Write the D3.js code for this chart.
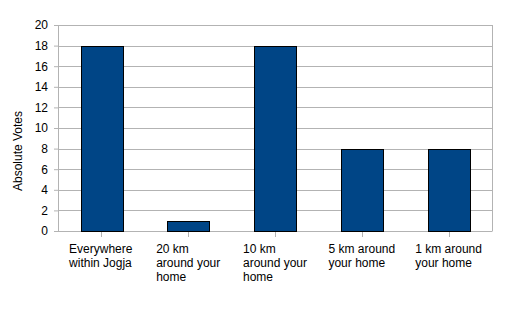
<!DOCTYPE html>
<html>
<head>
<meta charset="utf-8">
<script src="https://cdn.jsdelivr.net/npm/d3@7"></script>
<style>
  body { margin: 0; background: #fff; }
  text { font-family: "Liberation Sans", Arial, sans-serif; font-size: 12px; fill: #000; }
</style>
</head>
<body>
<div id="chart"></div>
<script>
var categories = ["a", "b", "c", "d", "e"];
var labels = [
    ["Everywhere", "within Jogja"],
    ["20 km", "around your", "home"],
    ["10 km", "around your", "home"],
    ["5 km around", "your home"],
    ["1 km around", "your home"]
];
var votes = [18, 1, 18, 8, 8];
var yTicks = [0, 2, 4, 6, 8, 10, 12, 14, 16, 18, 20];

var margin = {top: 25, right: 18, bottom: 81, left: 58},
    width = 510 - margin.left - margin.right,
    height = 312 - margin.top - margin.bottom;

var svg = d3.select("#chart").append("svg")
    .attr("width", 510)
    .attr("height", 312);

var chart = svg.append("g")
    .attr("transform", "translate(" + margin.left + "," + margin.top + ")");

var x = d3.scaleBand().domain(categories).range([0, width]).paddingInner(0.52).paddingOuter(0.26);
var y = d3.scaleLinear().domain([0, 20]).range([height, 0]);
var xc = d3.scaleBand().domain(categories).range([0, width]);

// gridlines
chart.append("g")
    .selectAll("line")
    .data(yTicks)
    .enter().append("line")
    .attr("x1", 0)
    .attr("x2", width)
    .attr("y1", function(d) { return Math.round(y(d)) + 0.5; })
    .attr("y2", function(d) { return Math.round(y(d)) + 0.5; })
    .style("stroke", "#b3b3b3");

// frame
chart.append("line")
    .attr("x1", 0.5).attr("x2", 0.5).attr("y1", 0).attr("y2", height + 0.5)
    .style("stroke", "#b3b3b3");
chart.append("line")
    .attr("x1", width + 0.5).attr("x2", width + 0.5).attr("y1", 0).attr("y2", height + 0.5)
    .style("stroke", "#b3b3b3");

// y axis
var yAxis = chart.append("g")
    .call(d3.axisLeft(y).tickValues(yTicks).tickSize(4).tickPadding(6));
yAxis.select(".domain").remove();
yAxis.selectAll("line").style("stroke", "#b3b3b3");
yAxis.selectAll("text").style("font-size", "12px").style("font-family", "Liberation Sans, Arial, sans-serif");

// x ticks
chart.append("g")
    .selectAll("line")
    .data(categories)
    .enter().append("line")
    .attr("x1", function(d) { return Math.round(xc(d) + xc.bandwidth() / 2) + 0.5; })
    .attr("x2", function(d) { return Math.round(xc(d) + xc.bandwidth() / 2) + 0.5; })
    .attr("y1", height)
    .attr("y2", height + 6)
    .style("stroke", "#b3b3b3");

// bars
chart.append("g")
    .selectAll("rect")
    .data(votes)
    .enter().append("rect")
    .attr("x", function(d, i) { return Math.round(x(categories[i])) + 0.5; })
    .attr("y", function(d) { return Math.round(y(d)) + 0.5; })
    .attr("width", Math.round(x.bandwidth()))
    .attr("height", function(d) { return Math.round(height - y(d)); })
    .style("fill", "#004586")
    .style("stroke", "#000");

// x labels: block centred, lines left aligned
var lab = chart.append("g")
    .selectAll("g")
    .data(labels)
    .enter().append("g");

lab.each(function(lines, i) {
    var g = d3.select(this);
    var t = g.append("text").attr("y", height + 22);
    lines.forEach(function(l, j) {
        t.append("tspan").attr("x", 0).attr("dy", j === 0 ? 0 : 14).text(l);
    });
    var w = t.node().getBBox().width;
    g.attr("transform", "translate(" + (xc(categories[i]) + xc.bandwidth() / 2 - w / 2) + ",0)");
});

// axis title sits a bit below the plot middle, as in the original
svg.append("text")
    .attr("transform", "rotate(-90)")
    .attr("x", -151)
    .attr("y", 22)
    .style("text-anchor", "middle")
    .text("Absolute Votes");
</script>
</body>
</html>
